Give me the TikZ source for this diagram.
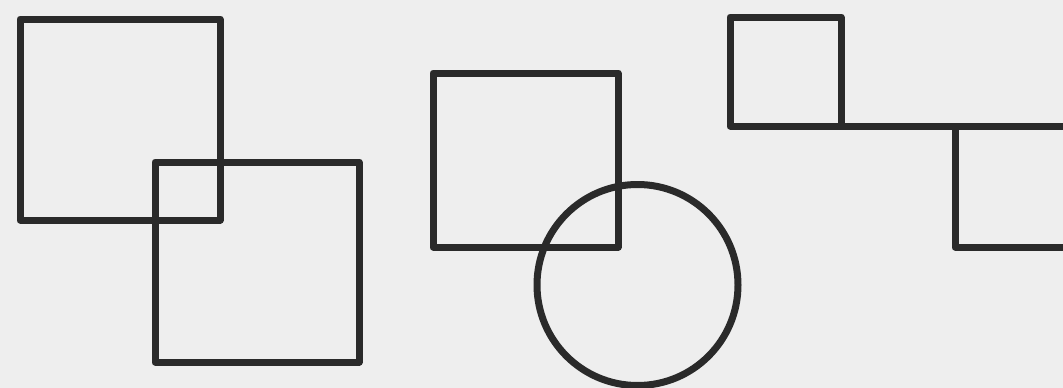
\documentclass[tikz,border=0pt]{standalone}
\definecolor{bg}{HTML}{EEEEEE}
\definecolor{ink}{HTML}{2A2A2A}
\begin{document}
\begin{tikzpicture}[x=1pt,y=-1pt,
  outline/.style={draw=ink,line width=7pt,line join=round,line cap=round}]
\useasboundingbox (0,0) rectangle (1063,388);
\fill[bg] (0,0) rectangle (1063,388);
\clip (0,0) rectangle (1063,388);
% left pair of squares
\draw[outline] (20,19) rectangle (220,220);
\draw[outline] (155,162) rectangle (359,362);
% square and circle
\draw[outline] (433,73) rectangle (618,247);
\draw[outline] (637.5,285) circle[radius=100.5];
% right pair of squares
\draw[outline] (730,17) rectangle (841,126);
\draw[outline] (841,126) -- (1080,126);
\draw[outline] (955,126) rectangle (1080,247);
\end{tikzpicture}
\end{document}
